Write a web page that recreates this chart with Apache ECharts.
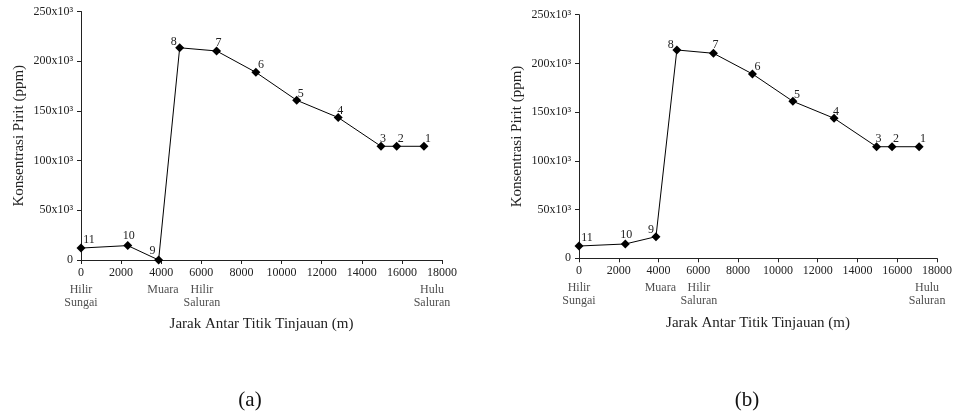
<!DOCTYPE html>
<html lang="en">
<head>
    <meta charset="UTF-8">
    <title>Konsentrasi Pirit</title>
    <style>
        body{ margin: 0; background: #fff; }
        #main{ width: 955px; height: 416px; }
    </style>
</head>
<body>
    <div id="main"></div>
    <script src="https://cdn.jsdelivr.net/npm/echarts@6/dist/echarts.min.js"></script>
    <script>
        // jarak antar titik tinjauan (m), titik 11 ... 1
        const jarak = [0, 2330, 3870, 4920, 6760, 8720, 10755, 12825, 14960, 15740, 17100];
        const titik = ['11', '10', '9', '8', '7', '6', '5', '4', '3', '2', '1'];
        // konsentrasi pirit (ppm)
        const piritA = [12000, 14500, 0, 213500, 210300, 188800, 160700, 143300, 114400, 114400, 114400];
        const piritB = [12600, 14700, 22200, 213800, 210400, 189200, 161100, 143700, 114500, 114500, 114500];
        // geser label nomor titik
        const geserA = [[8, 4], [1, 3], [-6, 3], [-6, 7], [2, 4], [5, 5], [4, 6], [2, 6], [2, 5], [4, 5], [4, 5]];
        const geserB = [[8, 4], [1, 3], [-5, 6], [-6, 7], [2, 4], [5, 5], [4, 6], [2, 6], [2, 5], [4, 5], [4, 5]];
        // nama lokasi di bawah sumbu x
        const lokasi = [[0, 'Hilir\nSungai'], [4090, 'Muara'], [6030, 'Hilir\nSaluran'], [17500, 'Hulu\nSaluran']];

        const font = 'Liberation Serif';
        const chart = echarts.init(document.getElementById('main'));

        function xAxisOf(i) {
            return {
                type: 'value', gridIndex: i, min: 0, max: 18000, interval: 2000,
                name: 'Jarak Antar Titik Tinjauan (m)', nameLocation: 'middle', nameGap: 57,
                nameTextStyle: { fontFamily: font, fontSize: 15, color: '#222' },
                axisLine: { lineStyle: { color: '#222' } },
                axisTick: { length: 4, lineStyle: { color: '#222' } },
                axisLabel: { fontFamily: font, fontSize: 12, color: '#222', margin: 7, formatter: v => String(v) },
                splitLine: { show: false }
            };
        }
        function yAxisOf(i) {
            return {
                type: 'value', gridIndex: i, min: 0, max: 250000, interval: 50000,
                name: 'Konsentrasi Pirit (ppm)', nameLocation: 'middle', nameGap: 54,
                nameTextStyle: { fontFamily: font, fontSize: 15, color: '#222' },
                axisLine: { show: true, lineStyle: { color: '#222' } },
                axisTick: { show: true, length: 4, lineStyle: { color: '#222' } },
                axisLabel: {
                    fontFamily: font, fontSize: 12, color: '#222', margin: 8,
                    formatter: v => v === 0 ? '0' : (v / 1000) + 'x10³'
                },
                splitLine: { show: false }
            };
        }
        function garis(i, nilai, geser) {
            return {
                type: 'line', xAxisIndex: i, yAxisIndex: i,
                symbol: 'diamond', symbolSize: 9, color: '#000',
                lineStyle: { color: '#000', width: 1 },
                itemStyle: { color: '#000' },
                label: { show: true, position: 'top', distance: 2, fontFamily: font, fontSize: 12, color: '#222' },
                data: jarak.map((x, k) => ({
                    value: [x, nilai[k]],
                    label: { formatter: titik[k], offset: geser[k] }
                })),
                animation: false
            };
        }
        function namaLokasi(i) {
            return {
                type: 'scatter', xAxisIndex: i, yAxisIndex: i,
                symbolSize: 0, silent: true, clip: false,
                label: {
                    show: true, position: 'bottom', distance: 23, verticalAlign: 'top',
                    fontFamily: font, fontSize: 12, lineHeight: 13, color: '#222',
                    formatter: p => p.value[2]
                },
                data: lokasi.map(d => [d[0], 0, d[1]]),
                animation: false
            };
        }

        chart.setOption({
            grid: [
                { left: 81, top: 11.5, width: 361, height: 248.5 },
                { left: 579, top: 14.7, width: 358, height: 243.6 }
            ],
            xAxis: [xAxisOf(0), xAxisOf(1)],
            yAxis: [yAxisOf(0), yAxisOf(1)],
            series: [garis(0, piritA, geserA), namaLokasi(0), garis(1, piritB, geserB), namaLokasi(1)],
            graphic: [
                { type: 'text', x: 250, y: 400, style: { text: '(a)', font: '21px "Liberation Serif"', fill: '#111', align: 'center', verticalAlign: 'middle' } },
                { type: 'text', x: 747, y: 400, style: { text: '(b)', font: '21px "Liberation Serif"', fill: '#111', align: 'center', verticalAlign: 'middle' } }
            ]
        });
    </script>
</body>
</html>
